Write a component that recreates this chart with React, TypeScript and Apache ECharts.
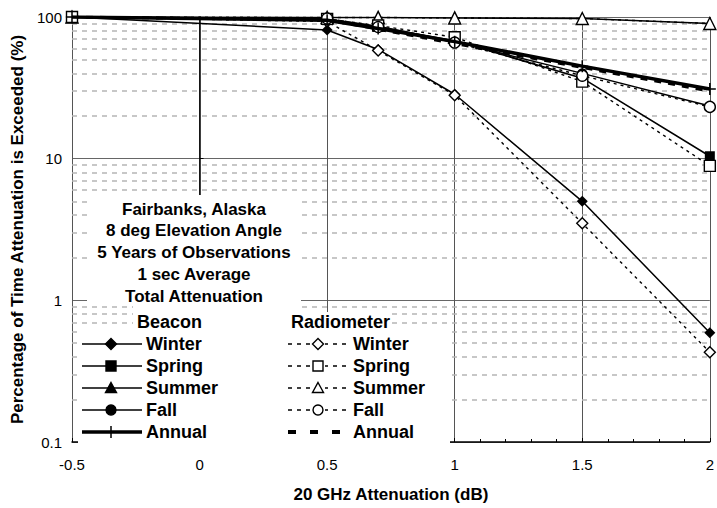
import React, { useEffect, useRef } from "react";
import * as echarts from "echarts";

// ---- data ----
const xValues = [-0.5, 0.5, 0.7, 1, 1.5, 2];
const beaconWinter = [100, 81, 59, 28.5, 5.0, 0.59];
const beaconSpring = [100, 95, 85, 68, 37, 10.4];
const beaconSummer = [100, 99.3, 99.3, 98.5, 97.6, 90];
const beaconFall = [100, 97, 86, 67, 40, 23.5];
const beaconAnnual = [100, 95, 83, 67, 45, 31];
const radWinter = [100, 93, 58, 28, 3.5, 0.43];
const radSpring = [100, 97, 87, 72, 35, 8.9];
const radSummer = [100, 99.3, 99.3, 98.5, 97.6, 90];
const radFall = [null, 97.6, 85, 66, 38.5, 23.2];
const radAnnual = [100, 95.5, 82, 65, 44, 30];

const xTicks = [-0.5, 0, 0.5, 1, 1.5, 2];
const yTicks = [0.1, 1, 10, 100];
const minorGridValues = [
  0.2, 0.3, 0.4, 0.5, 0.6, 0.7, 0.8, 0.9,
  2, 3, 4, 5, 6, 7, 8, 9,
  20, 30, 40, 50, 60, 70, 80, 90,
];
const seasons = ["Winter", "Spring", "Summer", "Fall", "Annual"];
const notes = [
  "Fairbanks, Alaska",
  "8 deg Elevation Angle",
  "5 Years of Observations",
  "1 sec Average",
  "Total Attenuation",
];

const FONT = '"Liberation Sans", Arial, sans-serif';
const PLUS = "path://M5.25,0h1.5v12h-1.5zM0,5.25h12v1.5h-12z";

const toPairs = (ys: (number | null)[]) =>
  ys.map((y, i) => (y === null ? [xValues[i], "-"] : [xValues[i], y]));

function beaconSeries(name: string, ys: number[], symbol: string, size: number, width = 1.5, z = 10) {
  return {
    name: "Beacon " + name,
    type: "line",
    z,
    data: toPairs(ys),
    symbol,
    symbolSize: size,
    showAllSymbol: true,
    lineStyle: { color: "#000", width },
    itemStyle: { color: "#000", borderColor: "#000", borderWidth: 0 },
  };
}

function radSeries(name: string, ys: (number | null)[], symbol: string, size: number) {
  return {
    name: "Radiometer " + name,
    type: "line",
    z: 11,
    data: toPairs(ys),
    symbol,
    symbolSize: size,
    showAllSymbol: true,
    lineStyle: { color: "#000", width: 1.4, type: [3, 4] },
    itemStyle: { color: "#fff", borderColor: "#000", borderWidth: 1.4 },
  };
}

function legendMarker(kind: string, cx: number, cy: number, filled: boolean): any[] {
  const fill = filled ? "#000" : "#fff";
  const st = { fill, stroke: "#000", lineWidth: 1.4 };
  if (kind === "diamond")
    return [{ type: "polygon", z: 5, shape: { points: [[cx, cy - 5.5], [cx + 5.5, cy], [cx, cy + 5.5], [cx - 5.5, cy]] }, style: st }];
  if (kind === "rect")
    return [{ type: "rect", z: 5, shape: { x: cx - 5, y: cy - 5, width: 10, height: 10 }, style: st }];
  if (kind === "triangle")
    return [{ type: "polygon", z: 5, shape: { points: [[cx, cy - 5.5], [cx + 5.5, cy + 4.5], [cx - 5.5, cy + 4.5]] }, style: st }];
  if (kind === "circle")
    return [{ type: "circle", z: 5, shape: { cx, cy, r: 5 }, style: st }];
  if (kind === "plus")
    return [
      { type: "line", z: 5, shape: { x1: cx, y1: cy - 6, x2: cx, y2: cy + 6 }, style: { stroke: "#000", lineWidth: 1.5 } },
    ];
  return [];
}

export default function App() {
  const ref = useRef<HTMLDivElement>(null);

  useEffect(() => {
    if (!ref.current) return;
    const chart = echarts.init(ref.current, undefined, { renderer: "svg" });

    const graphics: any[] = [];
    // white boxes (text box & legend) covering gridlines
    const white = { fill: "#fff", stroke: "none" };
    graphics.push({ type: "rect", z: 3, shape: { x: 87, y: 195, width: 214, height: 110 }, style: white });
    graphics.push({ type: "rect", z: 3, shape: { x: 133, y: 300, width: 168, height: 32 }, style: white });
    graphics.push({ type: "rect", z: 3, shape: { x: 286, y: 312, width: 104, height: 20 }, style: white });
    graphics.push({ type: "rect", z: 3, shape: { x: 78, y: 330, width: 372, height: 113 }, style: white });

    notes.forEach((t, i) => {
      graphics.push({
        type: "text",
        z: 5,
        x: 194,
        y: 209 + i * 21.8,
        style: {
          text: t,
          font: `bold 17px ${FONT}`,
          fill: "#000",
          align: "center",
          verticalAlign: "middle",
          textAlign: "center",
          textVerticalAlign: "middle",
        },
      });
    });

    const headerStyle = (text: string) => ({
      text,
      font: `bold 18px ${FONT}`,
      fill: "#000",
      align: "left",
      verticalAlign: "middle",
      textAlign: "left",
      textVerticalAlign: "middle",
    });
    graphics.push({ type: "text", z: 5, x: 137, y: 322, style: headerStyle("Beacon") });
    graphics.push({ type: "text", z: 5, x: 291, y: 322, style: headerStyle("Radiometer") });

    const kinds = ["diamond", "rect", "triangle", "circle", "plus"];
    seasons.forEach((s, i) => {
      const y = 344 + i * 22;
      const isAnnual = s === "Annual";
      // Beacon
      graphics.push({
        type: "line",
        z: 4,
        shape: { x1: 82, y1: y, x2: 142, y2: y },
        style: { stroke: "#000", lineWidth: isAnnual ? 3.5 : 1.5 },
      });
      graphics.push(...legendMarker(kinds[i], 111, y, true));
      graphics.push({ type: "text", z: 5, x: 146, y, style: headerStyle(s) });
      // Radiometer
      graphics.push({
        type: "line",
        z: 4,
        shape: { x1: 288, y1: y, x2: 349, y2: y },
        style: isAnnual
          ? { stroke: "#000", lineWidth: 4, lineDash: [8, 14] }
          : { stroke: "#000", lineWidth: 1.4, lineDash: [4, 5] },
      });
      if (!isAnnual) {
        graphics.push({ type: "rect", z: 4, shape: { x: 311, y: y - 6, width: 14, height: 12 }, style: white });
        graphics.push(...legendMarker(kinds[i], 318, y, false));
      }
      graphics.push({ type: "text", z: 5, x: 353, y, style: headerStyle(s) });
    });

    chart.setOption({
      animation: false,
      backgroundColor: "#fff",
      textStyle: { fontFamily: FONT },
      grid: { left: 72, right: 5, top: 17, bottom: 63, containLabel: false },
      xAxis: {
        type: "value",
        min: xTicks[0],
        max: xTicks[xTicks.length - 1],
        interval: 0.5,
        name: "20 GHz Attenuation (dB)",
        nameLocation: "middle",
        nameGap: 44,
        nameTextStyle: { fontSize: 17, fontWeight: "bold", color: "#000", fontFamily: FONT },
        axisLine: { show: true, onZero: false, lineStyle: { color: "#000", width: 1.5 } },
        axisTick: { show: true, inside: true, length: 4, lineStyle: { color: "#000" } },
        minorTick: { show: true, splitNumber: 5, length: 3, lineStyle: { color: "#000" } },
        axisLabel: {
          fontSize: 15,
          color: "#000",
          margin: 15,
          fontFamily: FONT,
          formatter: (v: number) => String(v),
        },
        splitLine: { show: true, lineStyle: { color: "#555", width: 1 } },
      },
      yAxis: {
        type: "log",
        logBase: 10,
        min: yTicks[0],
        max: yTicks[yTicks.length - 1],
        name: "Percentage of Time Attenuation is Exceeded (%)",
        nameLocation: "middle",
        nameGap: 46,
        nameTextStyle: { fontSize: 17, fontWeight: "bold", color: "#000", fontFamily: FONT },
        axisLine: { show: true, lineStyle: { color: "#000", width: 1.5 } },
        axisTick: { show: true, inside: true, length: 4, lineStyle: { color: "#000" } },
        axisLabel: {
          fontSize: 15,
          color: "#000",
          margin: 10,
          fontFamily: FONT,
          formatter: (v: number) => String(v),
        },
        splitLine: { show: true, lineStyle: { color: "#666", width: 1 } },
      },
      graphic: graphics,
      series: [
        {
          name: "minor grid",
          type: "line",
          z: 1,
          silent: true,
          data: [[xValues[0], 100]],
          symbol: "none",
          lineStyle: { opacity: 0 },
          markLine: {
            silent: true,
            z: 1,
            symbol: ["none", "none"],
            label: { show: false },
            lineStyle: { color: "#b5b5b5", width: 1.5, type: [5, 5] },
            data: minorGridValues.map((v) => ({ yAxis: v })),
          },
        },
        beaconSeries("Winter", beaconWinter, "diamond", 11),
        beaconSeries("Spring", beaconSpring, "rect", 10),
        beaconSeries("Summer", beaconSummer, "triangle", 11),
        beaconSeries("Fall", beaconFall, "circle", 10),
        radSeries("Winter", radWinter, "diamond", 11),
        radSeries("Summer", radSummer, "triangle", 12),
        radSeries("Spring", radSpring, "rect", 11),
        radSeries("Fall", radFall, "circle", 11),
        {
          name: "Radiometer Annual",
          type: "line",
          z: 9,
          data: toPairs(radAnnual),
          symbol: "none",
          lineStyle: { color: "#000", width: 3, type: [7, 7] },
        },
        beaconSeries("Annual", beaconAnnual, PLUS, 12, 3.5, 12),
      ],
    });

    return () => chart.dispose();
  }, []);

  return (
    <div
      ref={ref}
      style={{ position: "fixed", left: 0, top: 0, width: 717, height: 508, background: "#fff" }}
    />
  );
}
